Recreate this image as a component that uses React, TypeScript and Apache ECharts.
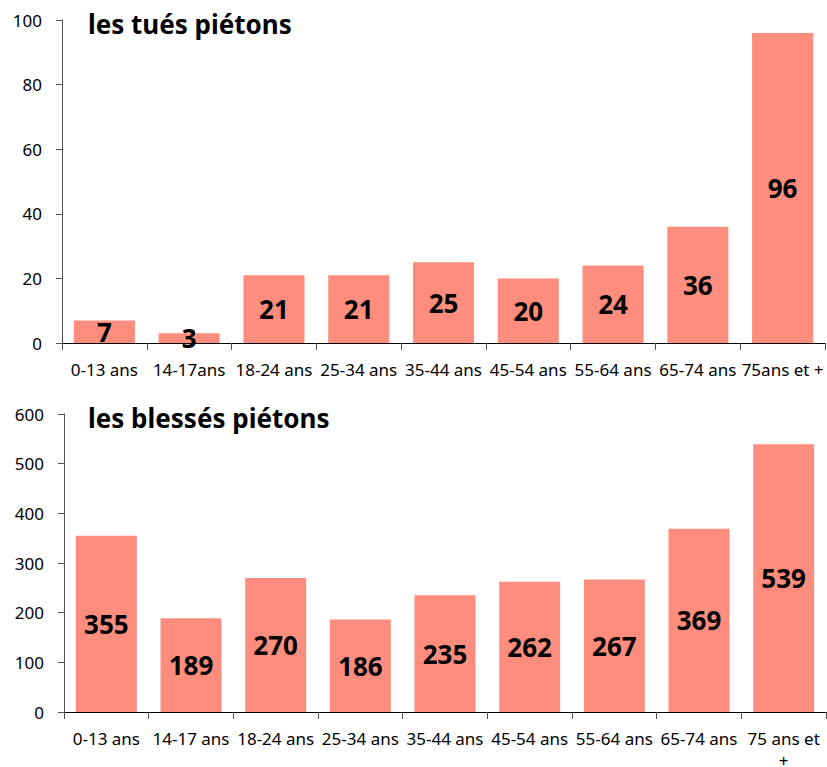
import React, { useEffect, useRef } from "react";
import * as echarts from "echarts";

const categoriesTop = ["0-13 ans", "14-17ans", "18-24 ans", "25-34 ans", "35-44 ans", "45-54 ans", "55-64 ans", "65-74 ans", "75ans et +"];
const categoriesBottom = ["0-13 ans", "14-17 ans", "18-24 ans", "25-34 ans", "35-44 ans", "45-54 ans", "55-64 ans", "65-74 ans", "75 ans et\n+"];
const tues = [7, 3, 21, 21, 25, 20, 24, 36, 96];
const blesses = [355, 189, 270, 186, 235, 262, 267, 369, 539];
const titleTop = "les tués piétons";
const titleBottom = "les blessés piétons";

const FONT = "'Noto Sans', sans-serif";
const BAR = "#FF8D7D";

export default function App() {
  const ref = useRef<HTMLDivElement>(null);
  useEffect(() => {
    document.body.style.margin = "0";
    const chart = echarts.init(ref.current!, null, { renderer: "svg" });
    const xAxisCommon = {
      type: "category" as const,
      axisLine: { show: true, lineStyle: { color: "#000", width: 1 } },
      axisTick: { show: true, length: 7, lineStyle: { color: "#555" } },
      axisLabel: { interval: 0, color: "#000", fontSize: 17, fontFamily: FONT, margin: 15, lineHeight: 22 },
    };
    const yAxisCommon = {
      type: "value" as const,
      axisLine: { show: true, lineStyle: { color: "#555", width: 1 } },
      axisTick: { show: true, length: 6, lineStyle: { color: "#555" } },
      splitLine: { show: false },
      axisLabel: { color: "#000", fontSize: 17, fontFamily: FONT, margin: 20 },
    };
    const labelCommon = {
      show: true,
      position: "inside" as const,
      color: "#000",
      fontSize: 26,
      fontWeight: "bold" as const,
      fontFamily: FONT,
    };
    const titleStyle = { fontSize: 26, fontWeight: "bold" as const, fontFamily: FONT, color: "#000" };
    chart.setOption({
      animation: false,
      title: [
        { text: titleTop, left: 83, top: 6, textStyle: titleStyle },
        { text: titleBottom, left: 83, top: 400, textStyle: titleStyle },
      ],
      grid: [
        { left: 62, top: 20, width: 763, height: 323, outerBoundsMode: "none" },
        { left: 64, top: 414, width: 762, height: 298, outerBoundsMode: "none" },
      ],
      xAxis: [
        { ...xAxisCommon, gridIndex: 0, data: categoriesTop },
        { ...xAxisCommon, gridIndex: 1, data: categoriesBottom },
      ],
      yAxis: [
        { ...yAxisCommon, gridIndex: 0, min: 0, max: 100, interval: 20 },
        { ...yAxisCommon, gridIndex: 1, min: 0, max: 600, interval: 100 },
      ],
      series: [
        { type: "bar", xAxisIndex: 0, yAxisIndex: 0, data: tues, barCategoryGap: "28%", itemStyle: { color: BAR }, label: labelCommon },
        { type: "bar", xAxisIndex: 1, yAxisIndex: 1, data: blesses, barCategoryGap: "28%", itemStyle: { color: BAR }, label: labelCommon },
      ],
    });
    return () => chart.dispose();
  }, []);
  return <div ref={ref} style={{ width: 827, height: 767 }} />;
}
